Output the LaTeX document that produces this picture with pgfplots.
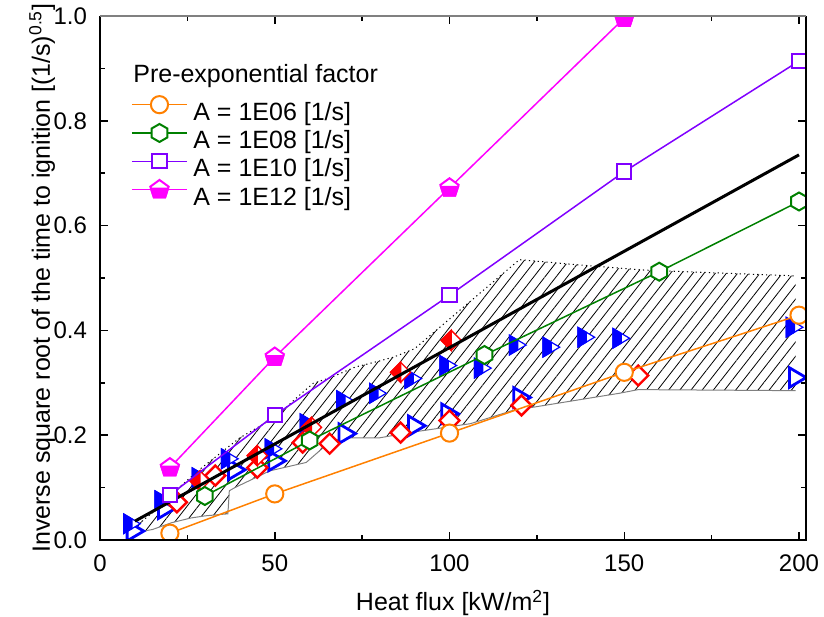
\documentclass[border=0pt]{standalone}
\usepackage{fontspec}
\setmainfont{Liberation Sans}
\usepackage{pgfplots}
\pgfplotsset{compat=1.18}
\usetikzlibrary{patterns.meta}
\definecolor{corange}{RGB}{255,128,0}
\definecolor{cgreen}{RGB}{0,128,0}
\definecolor{cpurple}{RGB}{128,0,255}
\definecolor{cmagenta}{RGB}{255,0,255}
\definecolor{cred}{RGB}{255,0,0}
\definecolor{cblue}{RGB}{0,0,255}

\pgfdeclareplotmark{hexa}{%
  \pgfsetfillcolor{white}%
  \pgfpathmoveto{\pgfqpointpolar{90}{\pgfplotmarksize}}%
  \pgfpathlineto{\pgfqpointpolar{150}{\pgfplotmarksize}}%
  \pgfpathlineto{\pgfqpointpolar{210}{\pgfplotmarksize}}%
  \pgfpathlineto{\pgfqpointpolar{270}{\pgfplotmarksize}}%
  \pgfpathlineto{\pgfqpointpolar{330}{\pgfplotmarksize}}%
  \pgfpathlineto{\pgfqpointpolar{30}{\pgfplotmarksize}}%
  \pgfpathclose\pgfusepathqfillstroke}
\pgfdeclareplotmark{hpent}{%
  \pgfsetfillcolor{white}%
  \pgfpathmoveto{\pgfqpointpolar{90}{\pgfplotmarksize}}%
  \pgfpathlineto{\pgfqpointpolar{162}{\pgfplotmarksize}}%
  \pgfpathlineto{\pgfqpointpolar{234}{\pgfplotmarksize}}%
  \pgfpathlineto{\pgfqpointpolar{306}{\pgfplotmarksize}}%
  \pgfpathlineto{\pgfqpointpolar{18}{\pgfplotmarksize}}%
  \pgfpathclose\pgfusepathqfillstroke
  \pgfsetfillcolor{cmagenta}%
  \pgfpathmoveto{\pgfqpoint{-0.88\pgfplotmarksize}{0.1\pgfplotmarksize}}%
  \pgfpathlineto{\pgfqpointpolar{234}{\pgfplotmarksize}}%
  \pgfpathlineto{\pgfqpointpolar{306}{\pgfplotmarksize}}%
  \pgfpathlineto{\pgfqpoint{0.88\pgfplotmarksize}{0.1\pgfplotmarksize}}%
  \pgfpathclose\pgfusepathqfillstroke}
\pgfdeclareplotmark{odiam}{%
  \pgfsetfillcolor{white}%
  \pgfpathmoveto{\pgfqpoint{0pt}{\pgfplotmarksize}}%
  \pgfpathlineto{\pgfqpoint{\pgfplotmarksize}{0pt}}%
  \pgfpathlineto{\pgfqpoint{0pt}{-\pgfplotmarksize}}%
  \pgfpathlineto{\pgfqpoint{-\pgfplotmarksize}{0pt}}%
  \pgfpathclose\pgfusepathqfillstroke}
\pgfdeclareplotmark{hdiam}{%
  \pgfsetfillcolor{white}%
  \pgfpathmoveto{\pgfqpoint{0pt}{\pgfplotmarksize}}%
  \pgfpathlineto{\pgfqpoint{\pgfplotmarksize}{0pt}}%
  \pgfpathlineto{\pgfqpoint{0pt}{-\pgfplotmarksize}}%
  \pgfpathlineto{\pgfqpoint{-\pgfplotmarksize}{0pt}}%
  \pgfpathclose\pgfusepathqfillstroke
  \pgfsetfillcolor{cred}%
  \pgfpathmoveto{\pgfqpoint{0pt}{\pgfplotmarksize}}%
  \pgfpathlineto{\pgfqpoint{0pt}{-\pgfplotmarksize}}%
  \pgfpathlineto{\pgfqpoint{-\pgfplotmarksize}{0pt}}%
  \pgfpathclose\pgfusepathqfillstroke}
\pgfdeclareplotmark{otri}{%
  \pgfsetfillcolor{white}%
  \pgfpathmoveto{\pgfqpoint{-0.8\pgfplotmarksize}{\pgfplotmarksize}}%
  \pgfpathlineto{\pgfqpoint{0.9\pgfplotmarksize}{0pt}}%
  \pgfpathlineto{\pgfqpoint{-0.8\pgfplotmarksize}{-\pgfplotmarksize}}%
  \pgfpathclose\pgfusepathqfillstroke}
\pgfdeclareplotmark{htri}{%
  \pgfsetfillcolor{white}%
  \pgfpathmoveto{\pgfqpoint{-0.8\pgfplotmarksize}{\pgfplotmarksize}}%
  \pgfpathlineto{\pgfqpoint{0.9\pgfplotmarksize}{0pt}}%
  \pgfpathlineto{\pgfqpoint{-0.8\pgfplotmarksize}{-\pgfplotmarksize}}%
  \pgfpathclose\pgfusepathqfillstroke
  \pgfsetfillcolor{cblue}%
  \pgfpathmoveto{\pgfqpoint{-0.8\pgfplotmarksize}{\pgfplotmarksize}}%
  \pgfpathlineto{\pgfqpoint{0.05\pgfplotmarksize}{0.5\pgfplotmarksize}}%
  \pgfpathlineto{\pgfqpoint{0.05\pgfplotmarksize}{-0.5\pgfplotmarksize}}%
  \pgfpathlineto{\pgfqpoint{-0.8\pgfplotmarksize}{-\pgfplotmarksize}}%
  \pgfpathclose\pgfusepathqfillstroke}

\newcommand{\tickfont}{\fontsize{12bp}{14bp}\selectfont}
\newcommand{\labfont}{\fontsize{12.5bp}{15bp}\selectfont}

\begin{document}
\begin{tikzpicture}
\begin{axis}[
  name=ax, scale only axis, width=353bp, height=262bp,
  xmin=0, xmax=202, ymin=0, ymax=1,
  clip marker paths=true,
  axis line style={draw=none},
  xtick={0,50,100,150,200}, minor xtick={25,75,125,175},
  ytick={0,0.2,0.4,0.6,0.8,1.0}, minor ytick={0.1,0.3,0.5,0.7,0.9},
  tick align=inside, major tick length=4bp, minor tick length=2.5bp,
  tick style={black, line width=0.75bp},
  /pgf/number format/assume math mode=true,
  yticklabel style={/pgf/number format/fixed, /pgf/number format/fixed zerofill, /pgf/number format/precision=1, font=\tickfont, xshift=-3bp},
  xticklabel style={font=\tickfont, yshift=-4bp},
  xlabel={Heat flux [kW/m\textsuperscript{2}]},
  ylabel={Inverse square root of the time to ignition [(1/s)\textsuperscript{0.5}]},
  xlabel style={at={(axis description cs:0.5,-0.12)}, anchor=center, font=\labfont},
  ylabel style={at={(axis description cs:-0.082,0.5)}, anchor=center, font=\labfont},
  legend style={draw=none, fill=none, inner sep=0pt, outer sep=0pt,
    at={(axis description cs:0.0453,0.851)}, anchor=north west,
    row sep=-1.5bp,
    nodes={inner sep=0pt, font=\labfont, text height=9.6bp, text depth=2.5bp},
    /tikz/every odd column/.append style={column sep=3.2bp}},
  legend cell align=left,
  legend image code/.code={\draw[mark repeat=2,mark phase=2,#1] plot coordinates {(0bp,4.3bp) (13.75bp,4.3bp) (27.5bp,4.3bp)};
    \pgfresetboundingbox\path[draw=none, fill=none, use as bounding box] (0bp,-2.5bp) rectangle (27.5bp,9.6bp);},
]
% hatched range
\addplot[draw=none, pattern={Lines[angle=52,distance=4.4bp,line width=0.4bp]}, pattern color=black, forget plot] coordinates {
(10,0.025) (15,0.052) (20,0.085) (28.6,0.135) (40,0.195) (47,0.222) (51.4,0.241) (56,0.27) (61,0.299) (66,0.31) (73,0.33) (79,0.34) (84,0.349) (90,0.365) (120,0.535) (137,0.525) (156,0.515) (199,0.504)
(199,0.285) (154,0.287) (148.6,0.28) (118,0.247) (106,0.222) (88.6,0.205) (80,0.195) (69,0.195) (64,0.177) (59,0.148) (48.6,0.132) (38.6,0.1) (37,0.094) (36.6,0.05) (30,0.046) (26,0.042) (20.5,0.033) (15,0.02) (9,0.013)
} -- cycle;
\addplot[black, line width=0.5bp, dash pattern=on 0.6bp off 1.6bp, forget plot] coordinates {
(10,0.025) (15,0.052) (20,0.085) (28.6,0.135) (40,0.195) (47,0.222) (51.4,0.241) (56,0.27) (61,0.299) (66,0.31) (73,0.33) (79,0.34) (84,0.349) (90,0.365) (120,0.535) (137,0.525) (156,0.515) (199,0.504)};
\addplot[gray, line width=0.5bp, forget plot] coordinates {
(9,0.013) (15,0.02) (20.5,0.033) (26,0.042) (30,0.046) (36.6,0.05) (37,0.094) (38.6,0.1) (48.6,0.132) (59,0.148) (64,0.177) (69,0.195) (80,0.195) (88.6,0.205) (106,0.222) (118,0.247) (148.6,0.28) (154,0.287) (199,0.285)};
% experimental points
\addplot[only marks, mark=otri, mark size=4.9bp, draw=cblue, line width=1.4bp, forget plot] coordinates {
(10,0.017) (19,0.060) (39,0.134) (50.5,0.151) (70.6,0.203) (90.5,0.218) (100,0.241) (120.6,0.272) (199.5,0.310)};
\addplot[only marks, mark=htri, mark size=4.9bp, draw=cblue, line width=0.6bp, forget plot] coordinates {
(9,0.031) (18,0.075) (28.6,0.119) (37,0.155) (49.5,0.174) (59.5,0.222) (70,0.266) (79.4,0.280) (89.5,0.308) (99.5,0.333) (109.4,0.328) (119.4,0.372) (129,0.368) (139,0.387) (149,0.385) (198.6,0.406)};
\addplot[only marks, mark=odiam, mark size=5bp, draw=cred, line width=1.2bp, forget plot] coordinates {
(22,0.072) (33,0.123) (45,0.138) (58,0.186) (65.7,0.184) (86,0.205) (100,0.228) (120.6,0.257) (154,0.314)};
\addplot[only marks, mark=hdiam, mark size=5bp, draw=cred, line width=0.7bp, forget plot] coordinates {
(28.6,0.113) (45,0.161) (60.5,0.215) (86,0.320) (100.5,0.381)};
% correlation line
\addplot[black, line width=1.5bp, forget plot] coordinates {(10,0.036) (200,0.735)};
% model results
\addplot[corange, line width=0.75bp, mark=*, mark size=4.3bp, mark options={solid, fill=white, line width=1bp}] coordinates {
(20,0.013) (50,0.088) (100,0.204) (150,0.320) (200,0.429)};
\addlegendentry{A = 1E06 [1/s]}
\addplot[cgreen, line width=0.75bp, mark=hexa, mark size=4.5bp, mark options={solid, line width=1bp}] coordinates {
(30,0.084) (60,0.190) (110,0.353) (160,0.512) (200,0.646)};
\addlegendentry{A = 1E08 [1/s]}
\addplot[cpurple, line width=0.75bp, mark=square*, mark size=3.6bp, mark options={solid, fill=white, line width=1bp}] coordinates {
(20,0.086) (50,0.238) (100,0.467) (150,0.703) (200,0.914)};
\addlegendentry{A = 1E10 [1/s]}
\addplot[cmagenta, line width=0.75bp, mark=hpent, mark size=4.8bp, mark options={solid, line width=1bp}] coordinates {
(20,0.138) (50,0.349) (100,0.672) (150,0.996)};
\addlegendentry{A = 1E12 [1/s]}
\node[anchor=base west, font=\labfont, inner sep=0pt] at (axis description cs:0.0467,0.874) {Pre-exponential factor};
\end{axis}
\draw[line width=1.2bp] (ax.north east) -- (ax.south east) -- (ax.south west) -- (ax.north west);
\draw[gray, line width=0.6bp] (ax.north west) -- (ax.north east);
\pgfresetboundingbox
\path[use as bounding box] ([xshift=-50bp,yshift=-38.5bp]ax.south west) rectangle ([xshift=9bp,yshift=8bp]ax.north east);
\end{tikzpicture}
\end{document}
